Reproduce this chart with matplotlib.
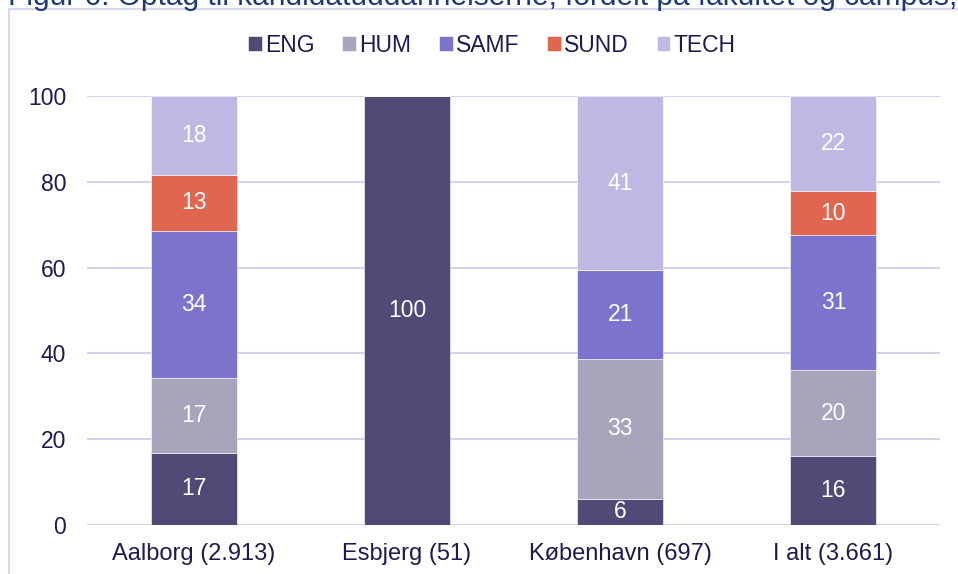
import numpy as np
import matplotlib.pyplot as plt
from matplotlib.patches import Rectangle

plt.rcParams['font.family'] = ['Liberation Sans', 'DejaVu Sans']

# data (andele i procent)
campus = ['Aalborg (2.913)', 'Esbjerg (51)', 'København (697)', 'I alt (3.661)']
fakultet = ['ENG', 'HUM', 'SAMF', 'SUND', 'TECH']
eng = [16.8, 100, 6.1, 16.1]
hum = [17.4, 0, 32.6, 20.0]
samf = [34.4, 0, 20.7, 31.4]
sund = [13.0, 0, 0, 10.4]
tech = [18.4, 0, 40.6, 22.1]
farver = ['#4f4a76', '#a8a4bb', '#7b73cc', '#e0664f', '#bdb9e3']

txt = '#1e1a4f'

fig = plt.figure(figsize=(9.58, 5.74), dpi=100)
ax = fig.add_axes([87/958, 1-525/574, (940-87)/958, (525-96)/574])

x = np.arange(len(campus))
bund = np.zeros(len(campus))
for navn, vals, c in zip(fakultet, [eng, hum, samf, sund, tech], farver):
    vals = np.array(vals, dtype=float)
    ax.bar(x, vals, 0.403, bottom=bund, color=c, label=navn,
           edgecolor='white', linewidth=0.4, zorder=3)
    for xi, b, v in zip(x, bund, vals):
        if v > 0:
            ax.text(xi, b + v/2, f'{v:.0f}', ha='center', va='center',
                    color='white', fontsize=16.5, zorder=4)
    bund += vals

ax.set_xlim(-0.5, 3.5)
ax.set_ylim(0, 100)
ax.set_yticks(range(0, 101, 20))
ax.yaxis.grid(True, color='#d6d2ee', linewidth=1.5, zorder=0)
ax.set_axisbelow(True)
for s in ax.spines.values():
    s.set_visible(False)
ax.tick_params(axis='both', length=0, labelsize=16.5, labelcolor=txt)
ax.tick_params(axis='y', pad=15)
ax.tick_params(axis='x', pad=13, labelsize=17)
ax.set_xticks(x)
ax.set_xticklabels(campus)

leg = fig.legend(loc='center', bbox_to_anchor=(492/958, 1-45/574), ncol=5,
                 frameon=False, fontsize=16.5, handlelength=0.6, handleheight=0.6,
                 handletextpad=0.15, columnspacing=1.2, labelcolor=txt)

# ramme
fig.patches.append(Rectangle((9/958, -0.1), 1.2, 1-9/574+0.1, transform=fig.transFigure,
                             fill=False, edgecolor='#d9d6ef', linewidth=1.5))

# afskaaret titel (kun nederste del er synlig)
fig.text(8/958, 1-5/574, 'Figur 6: Optag til kandidatuddannelserne, fordelt på fakultet og campus,',
         fontsize=21.5, color='#1f3a73', ha='left', va='baseline')

fig.savefig('out.png', dpi=100)
